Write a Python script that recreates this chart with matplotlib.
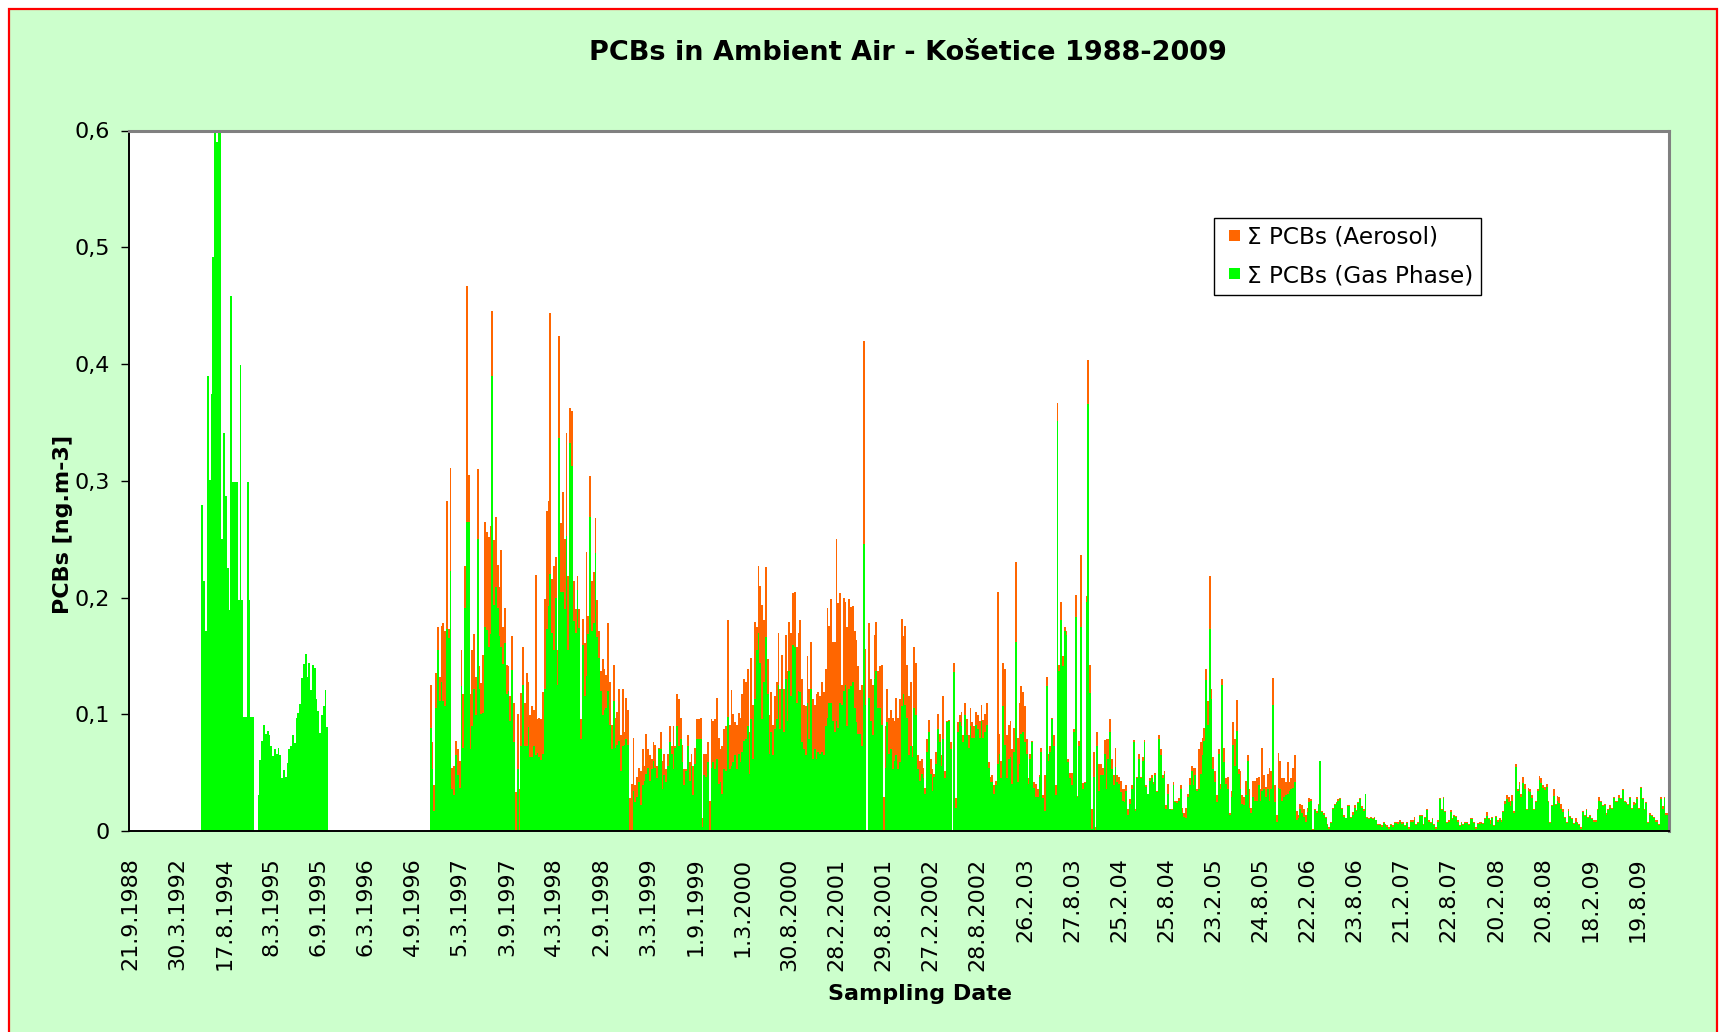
import numpy as np
import matplotlib
matplotlib.use("Agg")
import matplotlib.pyplot as plt
from matplotlib.patches import Rectangle
from matplotlib.legend_handler import HandlerPatch
from matplotlib.container import BarContainer

nan = np.nan

title = "PCBs in Ambient Air - Košetice 1988-2009"
y_label = "PCBs [ng.m-3]"
x_label = "Sampling Date"
series_names = ["Σ PCBs (Aerosol)", "Σ PCBs (Gas Phase)"]

tick_labels = ["21.9.1988", "30.3.1992", "17.8.1994", "8.3.1995", "6.9.1995", "6.3.1996",
               "4.9.1996", "5.3.1997", "3.9.1997", "4.3.1998", "2.9.1998", "3.3.1999",
               "1.9.1999", "1.3.2000", "30.8.2000", "28.2.2001", "29.8.2001", "27.2.2002",
               "28.8.2002", "26.2.03", "27.8.03", "25.2.04", "25.8.04", "23.2.05",
               "24.8.05", "22.2.06", "23.8.06", "21.2.07", "22.8.07", "20.2.08",
               "20.8.08", "18.2.09", "19.8.09"]
samples_per_label = 26
y_ticks = [0.0, 0.1, 0.2, 0.3, 0.4, 0.5, 0.6]
y_tick_labels = ["0", "0,1", "0,2", "0,3", "0,4", "0,5", "0,6"]

# samples without data (before 1994, gaps)
missing_start = [nan] * 40
missing_gap1 = [nan] * 2
missing_gap2 = [nan] * 56

# gas phase only, 1994
gas_1994 = [.279, .214, .171, .390, .301, .374, .492, .620, .590, .620,
            .610, .250, .341, .287, .225, .189, .458, .299, .299, .299,
            .198, .399, .198, .098, .098, .299, .198, .098, .098]
# gas phase only, 1995
gas_1995 = [.031, .061, .077, .091, .083, .086, .082, .073, .064, .070,
            .066, .071, .065, .045, .052, .046, .058, .070, .073, .082,
            .075, .097, .101, .109, .131, .143, .152, .132, .144, .121,
            .142, .140, .113, .103, .084, .099, .107, .121, .089]

# gas phase 1996-2009
gas_1996_2009 = [
    .088, .053, .017, .105, .155, .111, .128, .111, .107, .173,
    .165, .223, .036, .031, .065, .048, .037, .124, .071, .191,
    .265, .265, .070, .090, .122, .099, .250, .122, .100, .101,
    .175, .172, .158, .169, .390, .194, .209, .191, .167, .158,
    .143, .161, .117, .120, .094, .138, .076, 0, .053, 0,
    .073, .125, .073, .073, .089, .063, .063, .073, .065, .067,
    .063, .061, .066, .122, .173, .193, .220, .170, .155, .200,
    .125, .337, .205, .205, .190, .253, .155, .332, .313, .180,
    .170, .206, .174, .079, .159, .116, .133, .169, .269, .171,
    .178, .238, .166, .148, .120, .099, .104, .105, .120, .091,
    .070, .111, .071, .074, .077, .051, .073, .074, .079, .074,
    0, 0, .034, .025, .029, .042, .022, .039, .043, .049,
    .054, .043, .053, .060, .054, .045, .070, .070, .036, .048,
    .042, .056, .076, .066, .053, .071, .090, .073, .079, .059,
    .039, .051, .073, .043, .056, .031, .057, .079, .079, .079,
    .003, .048, .046, .059, 0, .054, .059, .053, .062, .040,
    .042, .032, .053, .051, .098, .053, .056, .059, .065, .053,
    .066, .059, .068, .077, .079, .090, .049, .096, .062, .113,
    .155, .170, .144, .096, .128, .166, .117, .066, .085, .065,
    .087, .096, .125, .087, .122, .085, .130, .094, .137, .116,
    .159, .158, .110, .120, .119, .076, .070, .065, .110, .079,
    .122, .062, .070, .062, .068, .066, .068, .065, .090, .097,
    .110, .110, .094, .085, .094, .088, .110, .108, .120, .125,
    .090, .122, .124, .128, .105, .093, .083, .083, .073, .246,
    .108, nan, .114, .094, .082, .130, .137, .105, .105, .091,
    0, .054, .093, .066, .070, .053, .060, .065, .053, .059,
    .107, .117, .108, .097, .065, .073, .063, .105, .099, .053,
    .043, .049, .045, .032, .068, .085, .049, .034, .046, .057,
    .087, .076, .056, .079, .045, .093, .094, .070, nan, .136,
    .020, .085, .093, .090, .076, .099, .082, .071, .090, .080,
    .080, .091, .087, .080, .094, .080, .085, .091, .054, .042,
    .042, .032, .039, .057, .066, .045, .107, .074, .045, .062,
    .063, .040, .068, .162, .042, .057, .083, .085, .076, .066,
    .040, .062, .076, .037, .029, .029, .046, .068, .028, .017,
    .124, .060, .068, .096, .073, .031, .351, .137, .181, .141,
    .171, .168, .059, .045, .039, .085, .183, .029, .073, .175,
    .036, .041, .196, .366, .118, .002, .046, 0, .073, .034,
    .048, .048, .066, .036, .062, .085, .053, .039, .055, .042,
    .040, .033, .026, .025, .034, .014, .023, .036, .076, .017,
    .045, .062, .045, .060, .076, .038, .032, .043, .045, .040,
    .048, .033, .079, .065, .045, .049, .019, .032, .019, .018,
    .039, .025, .024, .026, .036, .015, .012, .011, .029, .039,
    .051, .039, .048, .034, .036, .049, .065, .077, .129, .091,
    .173, .113, .053, .042, .025, .066, .036, .125, .059, .040,
    .036, .014, .029, .074, .056, .086, .049, .036, .023, .022,
    .031, .060, .020, .015, .029, .026, .026, .039, .026, .034,
    .036, .029, .036, .026, .036, .108, .025, .008, .037, .036,
    .026, .029, .031, .032, .034, .036, .037, .042, .009, .011,
    .019, .015, .012, .008, .016, .025, .026, .001, .018, .015,
    .022, .060, .016, .014, .011, .005, .002, .007, .019, .022,
    .024, .026, .027, .019, .012, .011, .021, .021, .011, .014,
    .020, .017, .024, .027, .020, .017, .032, .011, .010, .011,
    .010, .011, .009, .005, .005, .003, .007, .005, .003, .002,
    .005, .003, .007, .007, .006, .008, .006, .007, .004, .007,
    .002, .008, .008, .009, .005, .007, .013, .013, .005, .011,
    .018, .008, .007, .010, .005, .002, .008, .027, .018, .028,
    .016, .007, .008, .016, .010, .013, .012, .008, .004, .007,
    .005, .007, .007, .005, .010, .010, .007, .002, .006, .006,
    .007, .006, .010, .013, .010, .006, .011, .004, .012, .008,
    .009, .008, .016, .023, .027, .025, .021, .026, .015, .055,
    .034, .039, .029, .041, .036, .018, .034, .033, .028, .018,
    .025, .034, .044, .041, .037, .035, .038, .025, .007, .021,
    .030, .022, .026, .024, .019, .016, .011, .007, .017, .012,
    .010, .006, .008, .007, .005, .002, .016, .013, .018, .011,
    .013, .010, .008, .008, .018, .026, .025, .021, .022, .014,
    .018, .020, .019, .028, .025, .025, .028, .027, .035, .025,
    .024, .022, .028, .019, .022, .023, .027, .019, .037, .027,
    .018, .024, .007, .014, .013, .011, .008, .008, .005, .027,
    .019, .028, .014, .014]

# aerosol 1996-2009
aer_1996_2009 = [
    .037, .023, .022, .030, .020, .021, .048, .067, .064, .110,
    .008, .088, .018, .025, .012, .022, .023, .031, .046, .036,
    .202, .040, .047, .065, .047, .033, .060, .019, .027, .050,
    .090, .084, .094, .092, .055, .055, .060, .037, .042, .083,
    .032, .030, .025, .021, .022, .029, .034, .033, .047, .036,
    .045, .033, .037, .062, .039, .036, .044, .031, .154, .029,
    .034, .035, .053, .077, .101, .090, .224, .046, .072, .035,
    .030, .087, .059, .085, .060, .088, .063, .030, .047, .034,
    .020, .012, .016, .017, .023, .045, .106, .015, .035, .043,
    .044, .030, .032, .023, .017, .048, .035, .029, .058, .037,
    .021, .031, .026, .028, .045, .031, .049, .011, .035, .030,
    .028, .040, .046, .014, .017, .012, .029, .031, .013, .034,
    .016, .022, .009, .016, .020, .011, .001, .015, .024, .018,
    .011, .010, .014, .007, .037, .002, .027, .040, .018, .015,
    .014, .002, .009, .016, .010, .025, .014, .017, .017, .018,
    .008, .018, .020, .017, .026, .042, .035, .043, .052, .040,
    .028, .041, .034, .039, .083, .038, .065, .041, .028, .038,
    .035, .038, .049, .053, .049, .049, .036, .052, .046, .066,
    .020, .057, .066, .098, .053, .060, .030, .033, .034, .026,
    .029, .032, .045, .035, .029, .037, .038, .043, .042, .054,
    .045, .047, .048, .050, .062, .054, .038, .042, .040, .043,
    .040, .051, .038, .055, .051, .050, .060, .054, .049, .094,
    .066, .089, .068, .077, .156, .107, .094, .017, .080, .071,
    .085, .077, .068, .065, .066, .071, .058, .038, .052, .174,
    .048, nan, .064, .036, .043, .038, .042, .032, .036, .051,
    .029, .036, .029, .031, .034, .044, .034, .049, .044, .054,
    .075, .050, .068, .045, .051, .055, .010, .053, .045, .012,
    .017, .013, .009, .005, .011, .010, .013, .019, .003, .011,
    .013, .007, .009, .037, .006, .001, .001, .006, nan, .008,
    .008, .008, .006, .012, .006, .011, .014, .011, .015, .013,
    .010, .011, .012, .014, .014, .015, .015, .019, .005, .004,
    .006, .007, .004, .148, .017, .015, .037, .065, .037, .029,
    .031, .030, .020, .068, .038, .053, .041, .034, .031, .013,
    .005, .004, .001, .005, .011, .007, .002, .003, .003, .031,
    .008, .006, .005, .001, .009, .008, .016, .005, .015, .009,
    .004, .003, .003, .005, .011, .002, .019, .001, .004, .061,
    .005, .001, .005, .037, .024, .017, .022, .003, .012, .023,
    .009, .006, .012, .043, .017, .011, .009, .009, .016, .006,
    .006, .010, .010, .011, .005, .005, .004, .003, .002, .002,
    .001, .004, .001, .003, .002, .001, 0, .002, .003, .002,
    .002, .001, .003, .005, .003, .002, .003, .008, 0, .001,
    .003, .001, .002, .002, .003, .005, .003, .009, .003, .006,
    .005, .015, .006, .002, .034, .027, .015, .011, .010, .020,
    .045, .009, .010, .009, .006, .004, .004, .005, .012, .005,
    .010, .001, .005, .019, .023, .026, .004, .015, .008, .007,
    .012, .005, .016, .005, .014, .017, .019, .007, .010, .037,
    .012, .009, .013, .028, .015, .023, .014, .006, .030, .024,
    .019, .016, .011, .027, .008, .009, .017, .023, .008, .003,
    .004, .007, .007, .006, .004, .003, .001, .001, .001, .002,
    .001, 0, .001, .001, .001, .001, .001, .001, .001, .001,
    .001, .001, .001, .001, .002, 0, .001, .001, .001, .002,
    .002, .001, .001, .001, .001, .002, 0, .001, .001, .001,
    .001, .001, 0, .001, .001, .002, .001, .001, .002, .001,
    .001, .002, .001, .001, .002, .001, .002, .001, .001, .001,
    .001, .001, .001, .003, .001, .001, .001, .001, .001, .001,
    .001, .001, .001, .001, .001, .001, .001, .001, .001, .001,
    .001, .001, .001, .002, .001, .001, .001, .001, .001, .001,
    .001, .001, .001, .001, .001, .001, .001, .001, .001, .002,
    .001, .001, .001, .003, .001, .003, .001, .001, .001, .001,
    .002, .001, .001, .003, .004, .004, .005, .005, .002, .002,
    .002, .003, .003, .005, .004, .001, .003, .003, .003, .001,
    .001, .002, .003, .004, .002, .003, .002, .001, .001, .001,
    .006, .001, .004, .005, .004, .003, .001, .001, .002, .001,
    .001, .001, .003, .001, .001, .001, .001, .001, .001, .001,
    .001, .001, .001, .001, .001, .003, .001, .001, .001, .001,
    .001, .002, .001, .001, .001, .001, .003, .001, .001, .001,
    .001, .001, .001, .001, .003, .001, .002, .001, .001, .001,
    .001, .001, .001, .001, .001, .001, .001, .001, .001, .002,
    .002, .001, .001, .001]

gas = np.array(missing_start + gas_1994 + missing_gap1 + gas_1995
               + missing_gap2 + gas_1996_2009, dtype=float)
aer = np.array(missing_start + [nan] * len(gas_1994) + missing_gap1
               + [nan] * len(gas_1995) + missing_gap2 + aer_1996_2009, dtype=float)
x = np.arange(len(gas))

# ---------------- figure ----------------
W, H = 1719, 1032
fig = plt.figure(figsize=(W / 100, H / 100), dpi=100, facecolor="white")
bg = Rectangle((9 / W, -0.02), (1717 - 9) / W, 1 - 9 / H + 0.02,
               transform=fig.transFigure, facecolor="#CCFFCC",
               edgecolor="#FF0000", linewidth=1.6, zorder=-10)
fig.patches.append(bg)

ax = fig.add_axes([129 / W, 1 - 831 / H, (1669 - 129) / W, (831 - 130.5) / H])
ax.set_facecolor("white")

b_gas = ax.bar(x, gas, width=1.0, color="#00FF00", linewidth=0,
               antialiased=False, label=series_names[1])
b_aer = ax.bar(x, aer, bottom=np.nan_to_num(gas), width=1.0, color="#FF6600",
               linewidth=0, antialiased=False, label=series_names[0])

ax.set_xlim(-0.5, len(gas) - 0.5)
ax.set_ylim(0, 0.6)
ax.set_yticks(y_ticks, y_tick_labels)
ax.set_xticks(np.arange(len(tick_labels)) * samples_per_label, tick_labels,
              rotation=90)
ax.tick_params(axis="y", length=6, width=1, pad=8, labelsize=16,
               direction="out", colors="black")
ax.tick_params(axis="x", length=0, pad=19, labelsize=16)

for side in ("top", "right"):
    ax.spines[side].set_color("#808080")
    ax.spines[side].set_linewidth(2.2)
for side in ("left", "bottom"):
    ax.spines[side].set_color("black")
    ax.spines[side].set_linewidth(1.4)

fig.text(908 / W, 1 - 53 / H, title, ha="center", va="center",
         fontsize=19.5, fontweight="bold")
fig.text(63 / W, 1 - 524 / H, y_label, rotation=90, ha="center", va="center",
         fontsize=16, fontweight="bold")
fig.text(920 / W, 1 - 994 / H, x_label, ha="center", va="center",
         fontsize=16, fontweight="bold")


def square_handle(legend, orig_handle, xdescent, ydescent, width, height, fontsize):
    s = 8.0  # points
    return Rectangle((width - s - xdescent, (height - s) / 2 - ydescent), s, s)


def copy_bar_style(target, container):
    target.update_from(container.patches[0])
    target.set_antialiased(True)


leg = ax.legend(handles=[b_aer, b_gas], loc="upper left",
                bbox_to_anchor=(0.7043, 0.875), borderaxespad=0,
                frameon=True, fancybox=False, framealpha=1,
                edgecolor="black", fontsize=16.7, handlelength=0.82,
                handleheight=0.7, handletextpad=0.3, labelspacing=0.66,
                borderpad=0.33,
                handler_map={BarContainer: HandlerPatch(patch_func=square_handle,
                                                        update_func=copy_bar_style)})
leg.get_frame().set_linewidth(1.0)

fig.savefig("out.png", dpi=100, facecolor=fig.get_facecolor())
